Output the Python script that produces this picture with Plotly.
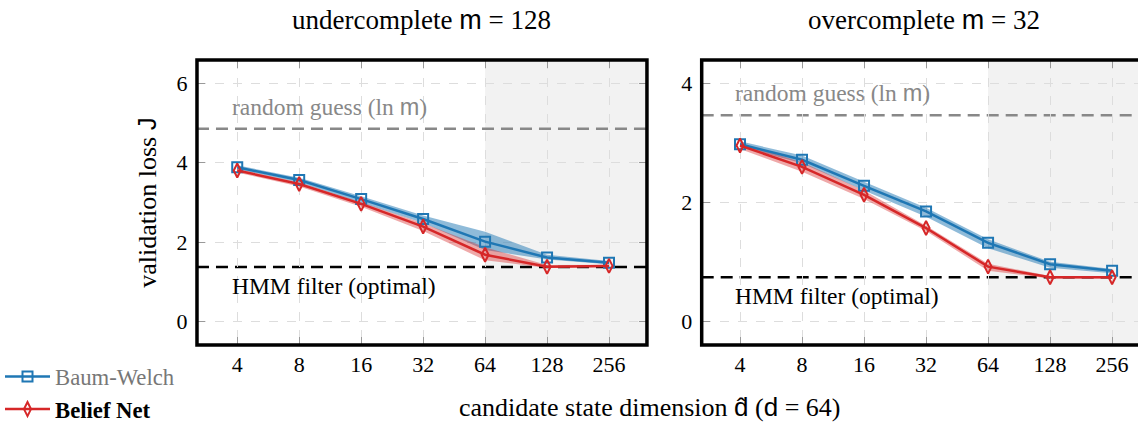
import numpy as np
import plotly.graph_objects as go

# ---------------- data ----------------
dims = [4, 8, 16, 32, 64, 128, 256]
tick_labels = ["4", "8", "16", "32", "64", "128", "256"]

# undercomplete m = 128
bw_under = [3.88, 3.56, 3.08, 2.58, 2.01, 1.61, 1.48]
bw_under_hi = [3.93, 3.62, 3.15, 2.67, 2.26, 1.68, 1.52]
bw_under_lo = [3.83, 3.50, 2.99, 2.48, 1.80, 1.56, 1.44]
bn_under = [3.80, 3.46, 2.96, 2.39, 1.68, 1.38, 1.40]
bn_under_hi = [3.84, 3.50, 3.00, 2.47, 1.87, 1.42, 1.43]
bn_under_lo = [3.75, 3.40, 2.89, 2.28, 1.54, 1.35, 1.37]

# overcomplete m = 32
bw_over = [2.98, 2.72, 2.28, 1.85, 1.32, 0.96, 0.85]
bw_over_hi = [3.03, 2.79, 2.35, 1.91, 1.38, 1.00, 0.88]
bw_over_lo = [2.94, 2.66, 2.20, 1.76, 1.23, 0.90, 0.81]
bn_over = [2.96, 2.60, 2.13, 1.57, 0.92, 0.74, 0.74]
bn_over_hi = [3.00, 2.68, 2.20, 1.61, 0.97, 0.76, 0.76]
bn_over_lo = [2.90, 2.52, 2.06, 1.52, 0.85, 0.72, 0.72]

random_guess = [4.85, 3.47]
hmm_filter = [1.37, 0.74]
shade_start = 64
y_ticks_left = [0, 2, 4, 6]
y_ticks_right = [0, 2, 4]

# ---------------- style ----------------
FONT = "Liberation Serif"
SANS = "Liberation Sans"
BLUE = "#1f77b4"
RED = "#d62728"
BLUE_BAND = "rgba(31,119,180,0.50)"
RED_BAND = "rgba(214,39,40,0.40)"
FS_TICK = 22
FS_ANN = 23.5
FS_LEG = 22.7
FS_TITLE = 27
FS_AXT = 26

def sf(t):
    return f"<span style='font-family:{SANS}'>{t}</span>"

fig = go.Figure()

panels = [
    dict(xa="x", ya="y", bw=bw_under, bwh=bw_under_hi, bwl=bw_under_lo,
         bn=bn_under, bnh=bn_under_hi, bnl=bn_under_lo, legend=True),
    dict(xa="x2", ya="y2", bw=bw_over, bwh=bw_over_hi, bwl=bw_over_lo,
         bn=bn_over, bnh=bn_over_hi, bnl=bn_over_lo, legend=False),
]

for p in panels:
    xs = dims + dims[::-1]
    fig.add_trace(go.Scatter(x=xs, y=p["bwh"] + p["bwl"][::-1], fill="toself",
                             fillcolor=BLUE_BAND, line=dict(width=0), mode="lines",
                             showlegend=False, hoverinfo="skip",
                             xaxis=p["xa"], yaxis=p["ya"]))
    fig.add_trace(go.Scatter(x=xs, y=p["bnh"] + p["bnl"][::-1], fill="toself",
                             fillcolor=RED_BAND, line=dict(width=0), mode="lines",
                             showlegend=False, hoverinfo="skip",
                             xaxis=p["xa"], yaxis=p["ya"]))
    fig.add_trace(go.Scatter(x=dims, y=p["bw"], mode="lines+markers",
                             name="<span style='color:#777777'>Baum-Welch</span>",
                             line=dict(color=BLUE, width=2.5),
                             marker=dict(symbol="square-open", size=10, color=BLUE,
                                         line=dict(width=2, color=BLUE)),
                             showlegend=p["legend"], legendgroup="bw",
                             xaxis=p["xa"], yaxis=p["ya"]))
    fig.add_trace(go.Scatter(x=dims, y=p["bn"], mode="lines+markers",
                             name="<b>Belief Net</b>",
                             line=dict(color=RED, width=2.5),
                             marker=dict(symbol="diamond-tall-open", size=10, color=RED,
                                         line=dict(width=2, color=RED)),
                             showlegend=p["legend"], legendgroup="bn",
                             xaxis=p["xa"], yaxis=p["ya"]))

xr1 = [0.4065, 2.5926]
xr2 = [0.416, 2.534]
yr1 = [-0.59, 6.58]
yr2 = [-0.40, 4.40]
ydom = [0.1825, 0.8578]

axis_common = dict(showgrid=True, gridcolor="#dddddd", griddash="dash", gridwidth=1,
                   zeroline=False, ticks="inside", ticklen=8, tickcolor="#999999",
                   tickwidth=1, showline=True, linecolor="rgba(0,0,0,0)",
                   tickfont=dict(family=FONT, size=FS_TICK, color="black"),
                   automargin=False)

fig.update_layout(
    width=1138, height=422, autosize=False,
    margin=dict(l=0, r=0, t=0, b=0, pad=0, autoexpand=False),
    paper_bgcolor="white", plot_bgcolor="white",
    font=dict(family=FONT, size=FS_TICK, color="black"),
    xaxis=dict(type="log", range=xr1, domain=[0.1731, 0.5685], tickvals=dims,
               ticktext=tick_labels, anchor="y", mirror="ticks", **axis_common),
    yaxis=dict(range=yr1, domain=ydom, tickvals=y_ticks_left, anchor="x",
               mirror="ticks", ticklabelstandoff=4,
               title=dict(text="validation loss " + sf("J"), standoff=12,
                          font=dict(family=FONT, size=FS_AXT)),
               **axis_common),
    xaxis2=dict(type="log", range=xr2, domain=[0.6166, 1.0], tickvals=dims,
                ticktext=tick_labels, anchor="y2", mirror="ticks", **axis_common),
    yaxis2=dict(range=yr2, domain=ydom, tickvals=y_ticks_right, anchor="x2",
                mirror=False, ticklabelstandoff=4, **axis_common),
    legend=dict(x=0.0, y=0.158, xanchor="left", yanchor="top",
                font=dict(family=FONT, size=FS_LEG), bgcolor="rgba(0,0,0,0)",
                itemwidth=45, tracegroupgap=0),
    showlegend=True,
)

shapes = []
for i, (xa, ya, xr) in enumerate([("x", "y", xr1), ("x2", "y2", xr2)]):
    shapes.append(dict(type="rect", xref=xa, yref=f"{ya} domain",
                       x0=shade_start, x1=10 ** xr[1], y0=0, y1=1,
                       fillcolor="#f2f2f2", line=dict(width=0), layer="below"))
    shapes.append(dict(type="line", xref=f"{xa} domain", yref=ya, x0=0, x1=1,
                       y0=random_guess[i], y1=random_guess[i],
                       line=dict(color="#888888", width=2.5, dash="12px,7px"),
                       layer="below"))
    shapes.append(dict(type="line", xref=f"{xa} domain", yref=ya, x0=0, x1=1,
                       y0=hmm_filter[i], y1=hmm_filter[i],
                       line=dict(color="black", width=2.5, dash="12px,7px"),
                       layer="below"))
    shapes.append(dict(type="rect", xref=f"{xa} domain", yref=f"{ya} domain",
                       x0=0, x1=1 if i == 0 else 1.1, y0=0, y1=1,
                       line=dict(color="black", width=3.5), layer="above"))
fig.update_layout(shapes=shapes)

annotations = []
for i, (xa, ya) in enumerate([("x", "y"), ("x2", "y2")]):
    annotations.append(dict(text="random guess (ln " + sf("m") + ")",
                            xref=f"{xa} domain", yref=ya, x=0.073 if i == 0 else 0.072,
                            y=random_guess[i], yshift=22, xanchor="left", yanchor="middle",
                            showarrow=False, font=dict(family=FONT, size=FS_ANN, color="#888888")))
    annotations.append(dict(text="HMM filter (optimal)",
                            xref=f"{xa} domain", yref=ya, x=0.073 if i == 0 else 0.072,
                            y=hmm_filter[i], yshift=-19, xanchor="left", yanchor="middle",
                            showarrow=False, font=dict(family=FONT, size=FS_ANN, color="black")))

annotations.append(dict(text="undercomplete " + sf("m") + " = 128", xref="x domain", yref="paper",
                        x=0.5, y=0.953, xanchor="center", yanchor="middle", showarrow=False,
                        font=dict(family=FONT, size=FS_TITLE)))
annotations.append(dict(text="overcomplete " + sf("m") + " = 32", xref="x2 domain", yref="paper",
                        x=0.51, y=0.953, xanchor="center", yanchor="middle", showarrow=False,
                        font=dict(family=FONT, size=FS_TITLE)))
annotations.append(dict(text="candidate state dimension " + sf("d\u0302") + " (" + sf("d") + " = 64)",
                        xref="paper", yref="paper", x=0.571, y=0.036,
                        xanchor="center", yanchor="middle", showarrow=False,
                        font=dict(family=FONT, size=FS_AXT)))
fig.update_layout(annotations=annotations)

fig.write_html("out.html", config={"responsive": False, "displayModeBar": False},
               post_script="document.body.style.margin='0';document.body.style.overflow='hidden';")
